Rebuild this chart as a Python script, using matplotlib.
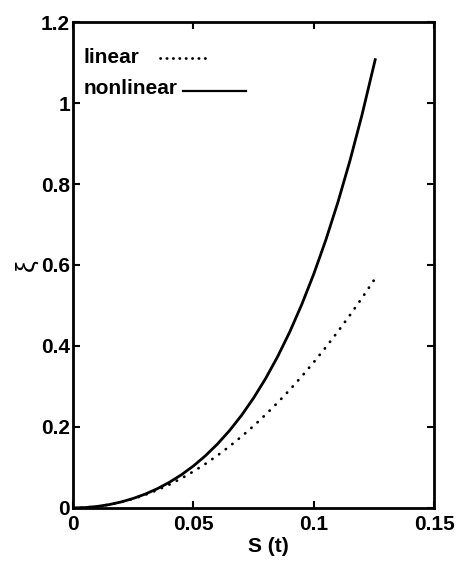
import matplotlib
matplotlib.use("Agg")
import matplotlib.pyplot as plt
from matplotlib.lines import Line2D
from matplotlib.ticker import FuncFormatter

# Displacement S(t) and response xi for the two models
s_nonlinear = [0.0, 0.005, 0.01, 0.015, 0.02, 0.025, 0.03, 0.035, 0.04, 0.045,
               0.05, 0.055, 0.06, 0.065, 0.07, 0.075, 0.08, 0.085, 0.09, 0.095,
               0.10, 0.105, 0.11, 0.115, 0.12, 0.1255]
xi_nonlinear = [0.0, 0.0009, 0.0036, 0.0082, 0.0148, 0.0234, 0.0342, 0.0474,
                0.0632, 0.0818, 0.1036, 0.1289, 0.1579, 0.1910, 0.2287, 0.2715,
                0.3197, 0.3739, 0.4346, 0.5025, 0.578, 0.6619, 0.7548, 0.8574,
                0.9704, 1.107]

s_linear = [0.0, 0.005, 0.01, 0.015, 0.02, 0.025, 0.03, 0.035, 0.04, 0.045,
            0.05, 0.055, 0.06, 0.065, 0.07, 0.075, 0.08, 0.085, 0.09, 0.095,
            0.10, 0.105, 0.11, 0.115, 0.12, 0.125]
xi_linear = [0.0, 0.0009, 0.0036, 0.0081, 0.0144, 0.0225, 0.0324, 0.0441,
             0.0576, 0.0729, 0.09, 0.1089, 0.1296, 0.1521, 0.1764, 0.2025,
             0.2304, 0.2601, 0.2916, 0.3249, 0.36, 0.3969, 0.4356, 0.4761,
             0.5184, 0.5625]

x_ticks = [0, 0.05, 0.1, 0.15]
y_ticks = [0, 0.2, 0.4, 0.6, 0.8, 1.0, 1.2]
legend_labels = ["linear", "nonlinear"]

plt.rcParams["font.family"] = ["Liberation Sans", "DejaVu Sans"]

fig = plt.figure(figsize=(4.59, 5.65), dpi=100)
ax = fig.add_axes([0.159, 0.101, 0.787, 0.860])

ax.plot(s_linear, xi_linear, color="black", lw=2.0,
        linestyle=(0, (0.1, 2.9)), dash_capstyle="round")
ax.plot(s_nonlinear, xi_nonlinear, color="black", lw=2.0)

ax.set_xlim(0, 0.15)
ax.set_ylim(0, 1.2)
ax.set_xticks(x_ticks)
ax.set_yticks(y_ticks)
fmt = FuncFormatter(lambda v, p: "%g" % v)
ax.xaxis.set_major_formatter(fmt)
ax.yaxis.set_major_formatter(fmt)

ax.tick_params(direction="in", length=5, width=1.5, top=True, right=True,
               labelsize=15)
ax.tick_params(axis="x", pad=5)
ax.tick_params(axis="y", pad=2)
for lab in ax.get_xticklabels() + ax.get_yticklabels():
    lab.set_fontweight("bold")
for sp in ax.spines.values():
    sp.set_linewidth(2.0)

ax.set_xlabel("S (t)", fontsize=15, fontweight="bold")
ax.xaxis.set_label_coords(0.54, -0.06)
ax.set_ylabel("ξ", fontsize=19, labelpad=2)

# Legend: text followed by a line sample
ax.text(0.03, 0.927, legend_labels[0], transform=ax.transAxes, fontsize=15,
        fontweight="bold", va="center", ha="left")
ax.add_line(Line2D([0.24, 0.375], [0.925, 0.925], transform=ax.transAxes,
                   color="black", lw=2.0, linestyle=(0, (0.1, 2.2)),
                   dash_capstyle="round"))
ax.text(0.03, 0.864, legend_labels[1], transform=ax.transAxes, fontsize=15,
        fontweight="bold", va="center", ha="left")
ax.add_line(Line2D([0.305, 0.48], [0.858, 0.858], transform=ax.transAxes,
                   color="black", lw=1.6))

fig.savefig("out.png", dpi=100)
